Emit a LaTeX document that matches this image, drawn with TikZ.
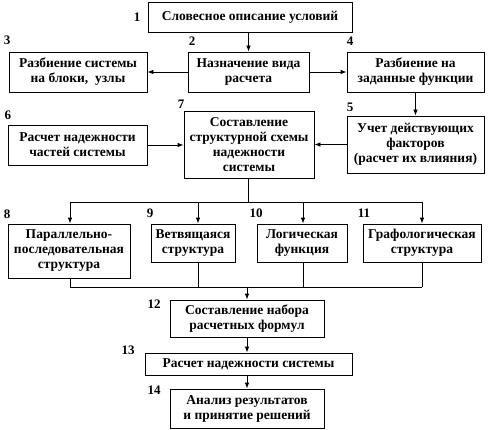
\documentclass[tikz,border=0pt]{standalone}
\usepackage{fontspec}
\setmainfont{Liberation Serif}[BoldFont={Liberation Serif Bold}]
\usetikzlibrary{arrows.meta}
\begin{document}
\begin{tikzpicture}[x=1pt,y=-1pt,
  box/.style={draw,line width=0.8pt,inner sep=0pt,align=center,
    font=\fontsize{13.5}{15}\selectfont\bfseries},
  num/.style={inner sep=0pt,font=\fontsize{13}{14}\selectfont\bfseries},
  conn/.style={line width=0.8pt},
  arr/.style={line width=0.8pt,-{Latex[length=6pt,width=4.5pt]}}]
\useasboundingbox (0,0) rectangle (489,430);
\node[box,minimum width=204pt,minimum height=30pt] (b1) at (250,17) {Словесное описание условий};
\node[box,minimum width=121pt,minimum height=40pt] (b2) at (248.5,72) {Назначение вида\\расчета};
\node[box,minimum width=138pt,minimum height=40pt] (b3) at (78,72) {Разбиение системы\\на блоки, \ узлы};
\node[box,minimum width=137pt,minimum height=40pt] (b4) at (415.5,72) {Разбиение на\\заданные функции};
\node[box,minimum width=137pt,minimum height=57pt] (b5) at (415.5,144.5) {Учет действующих\\факторов\\(расчет их влияния)};
\node[box,minimum width=139pt,minimum height=40pt] (b6) at (77.5,145) {Расчет надежности\\частей системы};
\node[box,minimum width=130pt,minimum height=67pt] (b7) at (249,144.5) {Составление\\структурной схемы\\надежности\\системы};
\node[box,minimum width=122pt,minimum height=54pt] (b8) at (69,251) {Параллельно-\\последовательная\\структура};
\node[box,minimum width=84pt,minimum height=38pt] (b9) at (193,243) {Ветвящаяся\\структура};
\node[box,minimum width=90pt,minimum height=38pt] (b10) at (302,243) {Логическая\\функция};
\node[box,minimum width=118pt,minimum height=38pt] (b11) at (422,243) {Графологическая\\структура};
\node[box,minimum width=154pt,minimum height=37pt] (b12) at (247,318.5) {Составление набора\\расчетных формул};
\node[box,minimum width=207pt,minimum height=22pt] (b13) at (248.5,364) {Расчет надежности системы};
\node[box,minimum width=154pt,minimum height=39pt] (b14) at (247,408.5) {Анализ результатов\\и принятие решений};
% numbers
\node[num] (n1) at (137,17) {1};
\node[num] (n2) at (192,41) {2};
\node[num] (n3) at (7,40) {3};
\node[num] (n4) at (350,41) {4};
\node[num] (n5) at (350,107) {5};
\node[num] (n6) at (8,115) {6};
\node[num] (n7) at (181,104) {7};
\node[num] (n8) at (7,214) {8};
\node[num] (n9) at (150,213) {9};
\node[num] (n10) at (256,213) {10};
\node[num] (n11) at (364,213) {11};
\node[num] (n12) at (154,304) {12};
\node[num] (n13) at (128,350) {13};
\node[num] (n14) at (154,390) {14};
% connectors
\draw[arr] (b2.north |- b1.south) -- (b2.north);
\draw[arr] (b2.west) -- (b3.east);
\draw[arr] (b2.east) -- (b4.east -| b4.west);
\draw[arr] (b4.south) -- (b5.north);
\draw[arr] (b6.east) -- (b7.west |- b6.east);
\draw[arr] (b5.west) -- (b7.east |- b5.west);
\coordinate (top) at (248,202);
\coordinate (t8) at (70,202);
\coordinate (t9) at (198,202);
\coordinate (t10) at (303,202);
\coordinate (t11) at (422,202);
\draw[conn] (b7.south -| top) -- (top);
\draw[conn] (t8) -- (t11);
\draw[arr] (t8) -- (t8 |- b8.north);
\draw[arr] (t9) -- (t9 |- b9.north);
\draw[arr] (t10) -- (t10 |- b10.north);
\draw[arr] (t11) -- (t11 |- b11.north);
\coordinate (bot) at (247,287);
\coordinate (u8) at (70,287);
\coordinate (u9) at (198,287);
\coordinate (u10) at (303,287);
\coordinate (u11) at (422,287);
\draw[conn] (u8) -- (u11);
\draw[conn] (u8 |- b8.south) -- (u8);
\draw[conn] (u9 |- b9.south) -- (u9);
\draw[conn] (u10 |- b10.south) -- (u10);
\draw[conn] (u11 |- b11.south) -- (u11);
\draw[arr] (bot) -- (bot |- b12.north);
\draw[arr] (b12.south) -- (b13.north -| b12.south);
\draw[arr] (b13.south -| b14.north) -- (b14.north);
\end{tikzpicture}
\end{document}
